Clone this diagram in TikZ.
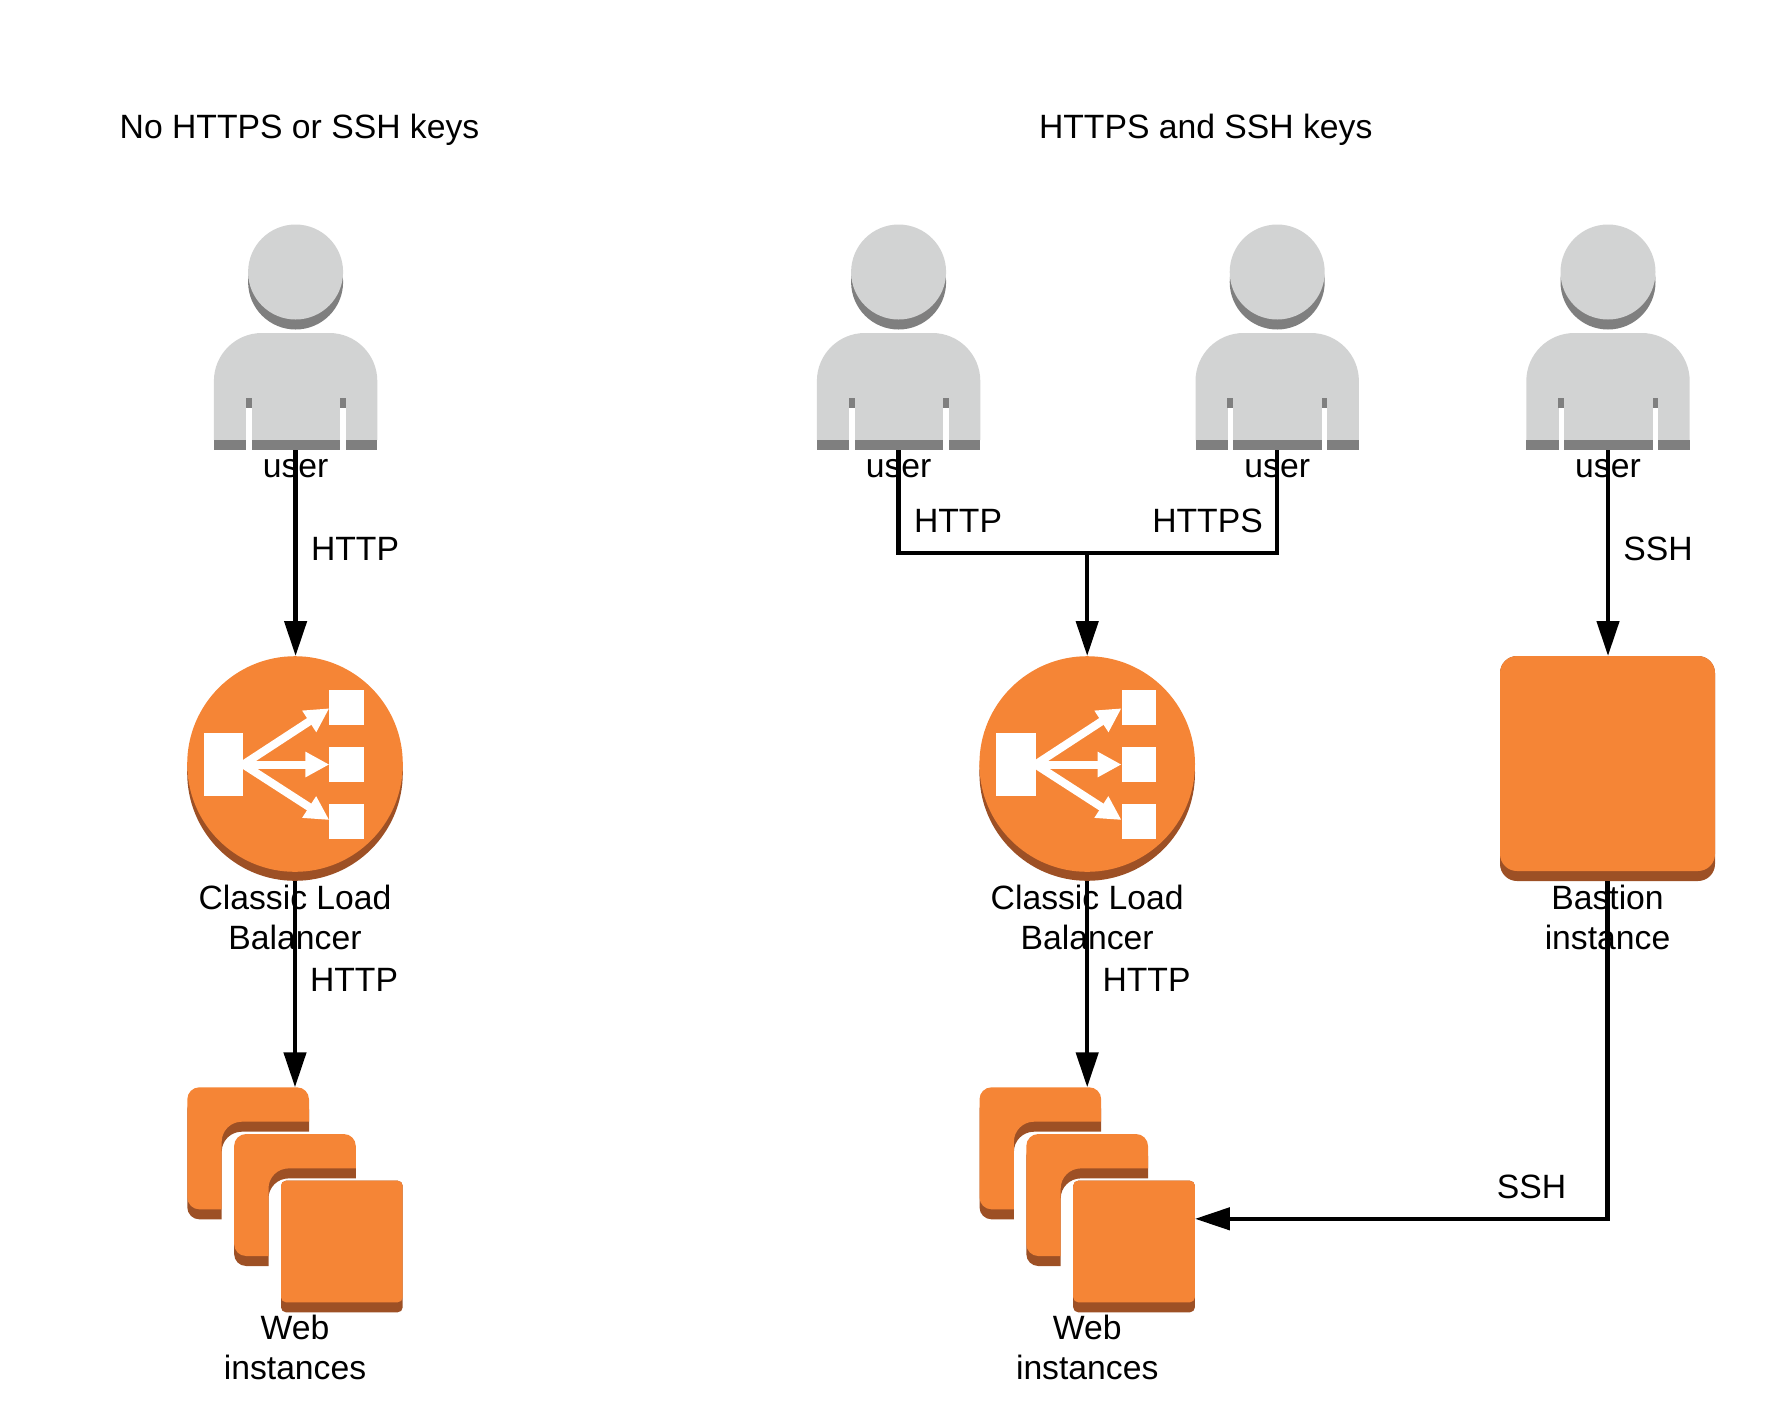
\documentclass[tikz,border=0pt]{standalone}
\usepackage{fontspec}
\setmainfont{Liberation Sans}
\usetikzlibrary{positioning,arrows.meta}
\definecolor{awsorange}{HTML}{F58536}
\definecolor{awsdark}{HTML}{9D5025}
\definecolor{userlight}{HTML}{D2D3D3}
\definecolor{userdark}{HTML}{7F7F7F}
\newcommand{\cardshape}{(0,60) [rounded corners=12pt] -- (0,0) -- (121.7,0) [sharp corners] -- (121.7,34.4)
  [rounded corners=20pt] -- (34.4,34.4) [sharp corners] -- (34.4,122) [rounded corners=12pt] -- (0,122) [sharp corners] -- cycle}
\tikzset{
  lbl/.style={
    font=\fontsize{33.7}{40}\selectfont,
    inner sep=0pt,
    align=center,
    anchor=base
  },
  iconbox/.style 2 args={
    rectangle,
    inner sep=0pt,
    outer sep=0pt,
    minimum width=#1,
    minimum height=#2
  },
  link/.style={line width=4.5pt},
  usericon/.pic={
    \node[iconbox={163pt}{225pt}] (-box) at (0,112.5) {};
    \fill[userdark] (0,57) circle[radius=47.5pt];
    \fill[userlight] (0,47) circle[radius=47.5pt];
    \fill[userlight] (-81.7,215) [rounded corners=48pt] -- (-81.7,108) -- (81.7,108) [sharp corners] -- (81.7,215) -- cycle;
    \fill[userdark] (-81.7,215) rectangle (81.7,225);
    \fill[userdark] (-50,173) rectangle (-44,183);
    \fill[userdark] (44.7,173) rectangle (50,183);
    \fill[white] (-49.5,183) rectangle (-44,225);
    \fill[white] (44.7,183) rectangle (50,225);
  },
  lbicon/.pic={
    \node[iconbox={216pt}{225pt}] (-box) at (0,4.5) {};
    \fill[awsdark] (0,9) circle[radius=107.8pt];
    \fill[awsorange] (0,0) circle[radius=107.8pt];
    \fill[white] (-91,-31) rectangle (-51.7,32);
    \fill[white] (34.3,-74.3) rectangle (69,-39.3);
    \fill[white] (34.3,-17) rectangle (69,18);
    \fill[white] (34.3,40) rectangle (69,75);
    \foreach \tipy in {-55.7,0.5,56}
      \draw[white,line width=8pt,-{Triangle[length=24pt,width=24pt]}] (-51.7,0.5) -- (34.3,\tipy);
  },
  webcard/.pic={
    \fill[awsdark,shift={(0,10)}] \cardshape;
    \fill[awsorange] \cardshape;
  },
  webicon/.pic={
    \node[iconbox={215.4pt}{225pt}] (-box) at (107.7,112.5) {};
    \coordinate (-side) at (215.4,131.5);
    \pic at (0,0) {webcard};
    \pic at (46.8,46.7) {webcard};
    \fill[awsdark,rounded corners=5pt] (93.7,93.4) rectangle (215.4,225);
    \fill[awsorange,rounded corners=5pt] (93.7,93.4) rectangle (215.4,215);
  },
  hosticon/.pic={
    \node[iconbox={215pt}{225pt}] (-box) at (0,112.5) {};
    \fill[awsdark,rounded corners=17pt] (-107.5,0) rectangle (107.5,225);
    \fill[awsorange,rounded corners=17pt] (-107.5,0) rectangle (107.5,215);
  }
}

\begin{document}
\begin{tikzpicture}[x=1pt,y=-1pt,>={Triangle[length=35pt,width=22pt]}]
\useasboundingbox (0,0) rectangle (1791,1425);

\node[lbl] (title1) at (299.5,138) {No HTTPS or SSH keys};
\node[lbl] (title2) at (1205.7,138) {HTTPS and SSH keys};

\pic (user1) at (295.6,225) {usericon};
\pic (user2) at (898.6,225) {usericon};
\pic (user3) at (1277.2,225) {usericon};
\pic (user4) at (1608,225) {usericon};
\pic (lb1) at (295,764) {lbicon};
\pic (lb2) at (1087.2,764) {lbicon};
\pic (host) at (1607.5,656) {hosticon};
\pic (web1) at (187.3,1087.3) {webicon};
\pic (web2) at (979.5,1087.3) {webicon};

\node[below=27pt of user1-box,lbl] (user1-lbl) {user};
\node[below=27pt of user2-box,lbl] (user2-lbl) {user};
\node[below=27pt of user3-box,lbl] (user3-lbl) {user};
\node[below=27pt of user4-box,lbl] (user4-lbl) {user};
\node[below=68pt of lb1-box,lbl] (lb1-lbl) {Classic Load\\Balancer};
\node[below=68pt of lb2-box,lbl] (lb2-lbl) {Classic Load\\Balancer};
\node[below=68pt of host-box,lbl] (host-lbl) {Bastion\\instance};
\node[below=67.5pt of web1-box,lbl] (web1-lbl) {Web\\instances};
\node[below=67.5pt of web2-box,lbl] (web2-lbl) {Web\\instances};

\coordinate (merge) at (1087.2,553);

\draw[link,->] (user1-box.south) -- (user1-box.south |- lb1-box.north);
\draw[link] (user2-box.south) |- (merge) -| (user3-box.south);
\draw[link,->] (merge) -- (lb2-box.north);
\draw[link,->] (user4-box.south) -- (user4-box.south |- host-box.north);
\draw[link,->] (lb1-box.south) -- (web1-box.north);
\draw[link,->] (lb2-box.south) -- (web2-box.north);
\draw[link,->] (host-box.south) |- (web2-side);

\node[lbl] (http1) at (355,560) {HTTP};
\node[lbl] (http2) at (354,991) {HTTP};
\node[lbl] (http3) at (958,532) {HTTP};
\node[lbl] (https) at (1207.5,532) {HTTPS};
\node[lbl] (http4) at (1146.5,991) {HTTP};
\node[lbl] (ssh1) at (1658,560) {SSH};
\node[lbl] (ssh2) at (1531.6,1198) {SSH};
\end{tikzpicture}
\end{document}
